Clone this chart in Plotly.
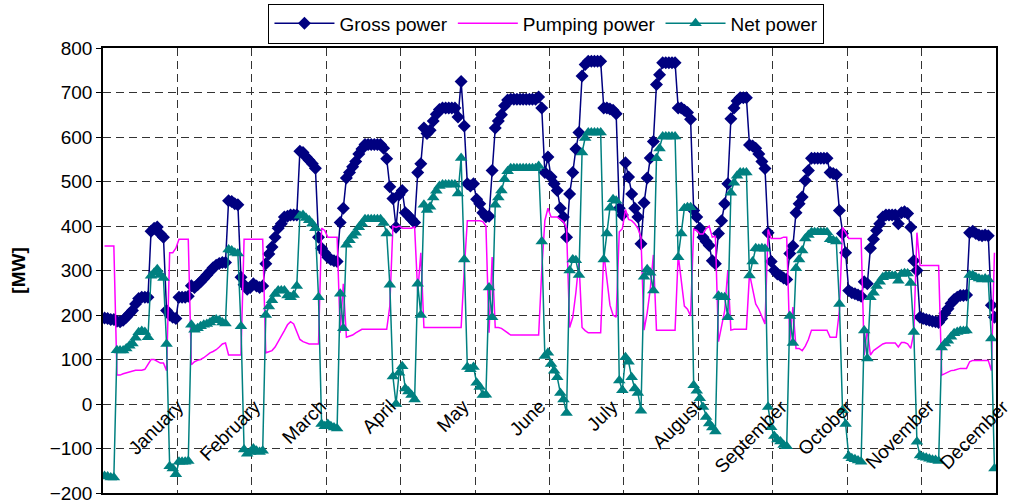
import plotly.graph_objects as go

months = ["January", "February", "March", "April", "May", "June",
          "July", "August", "September", "October", "November", "December"]
hours = list(range(288))  # 24 hourly categories per month

gross = [
    193,192,190,190,186,185,188,195,203,210,225,237,240,240,240,388,395,398,382,375,210,200,195,192,
    240,240,240,242,266,262,268,275,282,290,298,306,312,316,318,318,457,455,450,448,285,268,258,262,
    270,265,262,265,315,337,353,375,395,405,420,422,425,425,425,568,565,555,548,540,530,375,350,340,
    330,325,322,320,408,440,508,520,533,545,562,573,583,583,583,583,583,583,575,551,488,462,397,470,
    480,430,423,415,408,520,540,620,608,615,636,651,662,665,665,665,665,665,645,725,625,495,490,495,
    460,450,430,421,422,525,620,636,650,670,683,685,685,685,685,685,685,685,685,685,690,665,520,555,
    510,495,480,440,420,375,472,520,573,610,737,763,770,770,770,770,770,665,665,663,660,652,440,425,
    542,510,472,440,420,360,452,508,553,590,718,740,767,767,767,767,767,665,665,660,655,640,435,420,
    395,375,365,356,322,315,383,412,450,495,641,665,681,688,688,688,582,580,575,562,545,529,385,320,
    300,292,288,283,280,338,355,430,450,465,502,525,552,552,552,552,552,552,520,518,515,435,383,340,
    255,250,248,245,242,275,270,350,370,390,405,420,425,425,425,425,405,430,432,428,397,322,300,195,
    192,190,188,186,185,183,192,204,214,226,235,240,244,244,245,385,388,383,380,378,380,378,222,195,
]

pumping = [
    355,355,355,355,65,65,68,70,72,74,76,76,76,78,90,100,100,95,92,92,75,340,340,350,
    370,370,370,370,88,95,98,100,104,110,115,118,122,128,135,137,110,110,110,110,110,370,370,370,
    370,370,370,370,115,118,120,128,140,150,165,178,185,180,160,145,140,137,135,135,135,135,395,390,
    375,375,375,375,160,270,150,152,155,160,165,168,168,168,168,168,168,168,168,168,220,400,397,400,
    395,395,395,395,398,250,340,172,172,172,172,172,172,172,172,172,172,172,172,172,300,412,412,412,
    412,412,410,400,160,330,172,172,170,165,160,155,155,155,155,155,155,155,155,155,155,300,412,440,
    420,420,420,415,410,395,172,195,250,320,172,165,160,160,160,160,160,340,282,222,200,195,387,394,
    437,415,412,405,395,375,166,205,258,335,166,166,166,166,166,166,166,335,282,220,213,198,393,390,
    382,382,394,400,375,377,140,172,210,300,166,168,168,168,168,168,293,260,225,213,195,180,392,372,
    372,372,372,375,375,140,218,125,125,120,130,145,166,166,166,166,166,166,150,150,150,210,397,385,
    372,372,372,372,372,110,168,110,120,125,130,135,137,137,137,137,128,138,138,135,125,160,385,311,
    311,311,311,311,311,311,65,68,72,75,76,78,80,80,80,95,98,98,98,98,98,98,75,340,
]

net = [
    -162,-163,-165,-165,121,120,120,125,131,136,149,161,164,162,150,288,295,303,290,283,135,-140,-145,-158,
    -130,-130,-130,-128,178,167,170,175,178,180,183,188,190,188,183,181,347,345,340,338,175,-102,-112,-108,
    -100,-105,-108,-105,200,219,233,247,255,255,255,244,240,245,265,423,425,418,413,405,395,240,-45,-50,
    -45,-50,-53,-55,248,170,358,368,378,385,397,405,415,415,415,415,415,415,407,383,268,62,0,70,
    85,35,28,20,10,270,200,448,436,443,464,479,490,493,493,493,493,493,473,553,325,83,78,83,
    48,38,20,21,262,195,448,464,480,505,523,530,530,530,530,530,530,530,530,530,535,365,108,115,
    90,75,60,25,10,-20,300,325,323,290,565,598,610,610,610,610,610,325,383,441,460,457,53,31,
    105,95,60,35,25,-15,286,303,295,255,552,574,601,601,601,601,601,330,383,440,442,442,42,30,
    13,-7,-29,-44,-53,-62,243,240,240,195,475,497,513,520,520,520,289,320,350,349,350,349,-7,-52,
    -72,-80,-84,-92,-95,198,137,305,325,345,372,380,386,386,386,386,386,386,370,368,365,225,-14,-45,
    -117,-122,-124,-127,-130,165,102,240,250,265,275,285,288,288,288,288,277,292,294,293,272,162,-85,-116,
    -119,-121,-123,-125,-126,-128,127,136,142,151,159,162,164,164,165,290,290,285,282,280,282,280,147,-145,
]

y_ticks = [-200, -100, 0, 100, 200, 300, 400, 500, 600, 700, 800]

FONT = "Liberation Sans, Arial, sans-serif"
NAVY = "#000080"
MAGENTA = "#FF00FF"
TEAL = "#008080"

fig = go.Figure()
fig.add_trace(go.Scatter(
    x=hours, y=gross, name="Gross power", mode="lines+markers",
    line=dict(color=NAVY, width=1.5),
    marker=dict(symbol="diamond", size=10, color=NAVY),
))
fig.add_trace(go.Scatter(
    x=hours, y=pumping, name="Pumping power", mode="lines",
    line=dict(color=MAGENTA, width=1.5),
))
fig.add_trace(go.Scatter(
    x=hours, y=net, name="Net power", mode="lines+markers",
    line=dict(color=TEAL, width=1.5),
    marker=dict(symbol="triangle-up", size=11, color=TEAL),
))

month_bounds = [24 * (i + 1) - 0.5 for i in range(11)]

fig.update_xaxes(
    range=[-0.5, 287.5], tickvals=month_bounds, showticklabels=False, ticks="",
    showgrid=True, gridcolor="#333333", gridwidth=1, griddash="8px,5px",
    zeroline=False, showline=True, mirror=True, linecolor="black", linewidth=1.5,
)
fig.update_yaxes(
    range=[-200, 800], tickvals=y_ticks, ticks="outside", ticklen=5, tickcolor="black",
    tickfont=dict(family=FONT, size=19, color="black"), ticklabeloverflow="allow",
    showgrid=True, gridcolor="#333333", gridwidth=1, griddash="8px,5px",
    zeroline=False, showline=True, mirror=True, linecolor="black", linewidth=1.5,
)

annotations = []
for i, m in enumerate(months):
    annotations.append(dict(
        x=24 * i + 16.5, y=0, xref="x", yref="y", text=m, showarrow=False,
        textangle=-45, xanchor="center", yanchor="top", yshift=11,
        font=dict(family=FONT, size=19, color="black"),
    ))
annotations.append(dict(
    x=-0.095, y=0.5, xref="paper", yref="paper", text="<b>[MW]</b>", showarrow=False,
    textangle=-90, xanchor="center", yanchor="middle",
    font=dict(family=FONT, size=19, color="black"),
))

fig.update_layout(
    width=1011, height=502,
    margin=dict(l=103, r=15, t=48, b=9, autoexpand=False),
    paper_bgcolor="white", plot_bgcolor="white",
    font=dict(family=FONT, color="black"),
    showlegend=True,
    legend=dict(
        orientation="h", x=0.4966, xanchor="center", y=1.100, yanchor="top",
        bordercolor="black", borderwidth=1, bgcolor="white",
        font=dict(family=FONT, size=19, color="black"),
        itemwidth=60, tracegroupgap=0,
    ),
    annotations=annotations,
)

fig.write_html("out.html", config={"displayModeBar": False},
               post_script="document.body.style.margin='0px';")
